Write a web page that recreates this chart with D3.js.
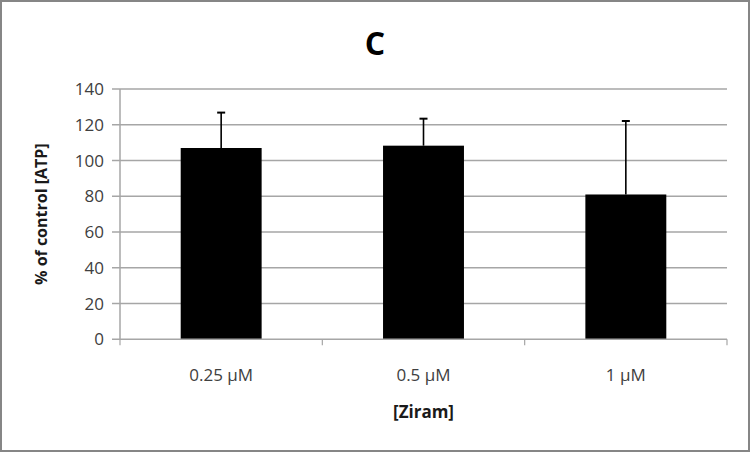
<!DOCTYPE html>
<html>
<head>
<meta charset="utf-8">
<script src="https://cdn.jsdelivr.net/npm/d3@7"></script>
<style>
  body { margin: 0; background: #fff; }
  svg { display: block; font-family: "Open Sans", "Liberation Sans", sans-serif; }
</style>
</head>
<body>
<svg id="chart" width="750" height="452"></svg>
<script>
// values
const categories = ["0.25 μM", "0.5 μM", "1 μM"]
const means = [107.0, 108.3, 81.0]
const errors = [19.8, 15.1, 41.1]
const yTicks = [0, 20, 40, 60, 80, 100, 120, 140]

const W = 750, H = 452
const plot = { left: 120, right: 727, top: 89, bottom: 339.3 }

const svg = d3.select("#chart")

// outer frame
svg.append("rect")
  .attr("x", 1).attr("y", 1)
  .attr("width", W - 2).attr("height", H - 2)
  .attr("fill", "#fff")
  .attr("stroke", "#868686")
  .attr("stroke-width", 2)

const x = d3.scaleBand()
  .domain(categories)
  .range([plot.left, plot.right])
  .paddingInner(0.6)
  .paddingOuter(0.3)

const y = d3.scaleLinear()
  .domain([0, 140])
  .range([plot.bottom, plot.top])

// gridlines + y ticks
svg.append("g")
  .selectAll("line")
  .data(yTicks.filter(d => d > 0))
  .join("line")
  .attr("x1", plot.left - 8)
  .attr("x2", plot.right)
  .attr("y1", d => y(d))
  .attr("y2", d => y(d))
  .attr("stroke", "#a6a6a6")
  .attr("stroke-width", 1.5)

// y axis line
svg.append("line")
  .attr("x1", plot.left).attr("x2", plot.left)
  .attr("y1", y(140)).attr("y2", y(0))
  .attr("stroke", "#a6a6a6")
  .attr("stroke-width", 1.5)

// y tick labels
svg.append("g")
  .selectAll("text")
  .data(yTicks)
  .join("text")
  .attr("x", 104)
  .attr("y", d => y(d))
  .attr("dy", "0.36em")
  .attr("text-anchor", "end")
  .attr("font-size", 17)
  .attr("fill", "#404040")
  .text(d => d)

// bars
svg.append("g")
  .selectAll("rect")
  .data(categories)
  .join("rect")
  .attr("x", d => x(d))
  .attr("width", x.bandwidth())
  .attr("y", (d, i) => y(means[i]))
  .attr("height", (d, i) => y(0) - y(means[i]))
  .attr("fill", "#000")

// error bars (upper only)
const err = svg.append("g").attr("stroke", "#000").attr("stroke-width", 1.6)
categories.forEach((c, i) => {
  const cx = x(c) + x.bandwidth() / 2
  err.append("line")
    .attr("x1", cx).attr("x2", cx)
    .attr("y1", y(means[i])).attr("y2", y(means[i] + errors[i]))
  err.append("line")
    .attr("x1", cx - 4).attr("x2", cx + 4)
    .attr("y1", y(means[i] + errors[i])).attr("y2", y(means[i] + errors[i]))
    .attr("stroke-width", 2)
})

// x axis baseline + tick marks at band edges
svg.append("line")
  .attr("x1", plot.left - 8).attr("x2", plot.right)
  .attr("y1", y(0)).attr("y2", y(0))
  .attr("stroke", "#a6a6a6")
  .attr("stroke-width", 1.5)

svg.append("g")
  .selectAll("line")
  .data(d3.range(categories.length + 1))
  .join("line")
  .attr("x1", i => plot.left + i * x.step())
  .attr("x2", i => plot.left + i * x.step())
  .attr("y1", y(0))
  .attr("y2", y(0) + 6)
  .attr("stroke", "#a6a6a6")
  .attr("stroke-width", 1.2)

// x tick labels
svg.append("g")
  .selectAll("text")
  .data(categories)
  .join("text")
  .attr("x", d => x(d) + x.bandwidth() / 2)
  .attr("y", 381)
  .attr("text-anchor", "middle")
  .attr("font-size", 17)
  .attr("fill", "#404040")
  .text(d => d)

// title
svg.append("text")
  .attr("x", 375).attr("y", 55)
  .attr("text-anchor", "middle")
  .attr("font-size", 32)
  .attr("font-weight", "bold")
  .attr("fill", "#000")
  .text("C")

// axis titles
svg.append("text")
  .attr("x", (plot.left + plot.right) / 2)
  .attr("y", 418)
  .attr("text-anchor", "middle")
  .attr("font-size", 17)
  .attr("font-weight", "bold")
  .attr("fill", "#1a1a1a")
  .text("[Ziram]")

svg.append("text")
  .attr("transform", `translate(47,${(plot.top + plot.bottom) / 2}) rotate(-90)`)
  .attr("text-anchor", "middle")
  .attr("font-size", 16)
  .attr("font-weight", "bold")
  .attr("fill", "#1a1a1a")
  .text("% of control [ATP]")
</script>
</body>
</html>
